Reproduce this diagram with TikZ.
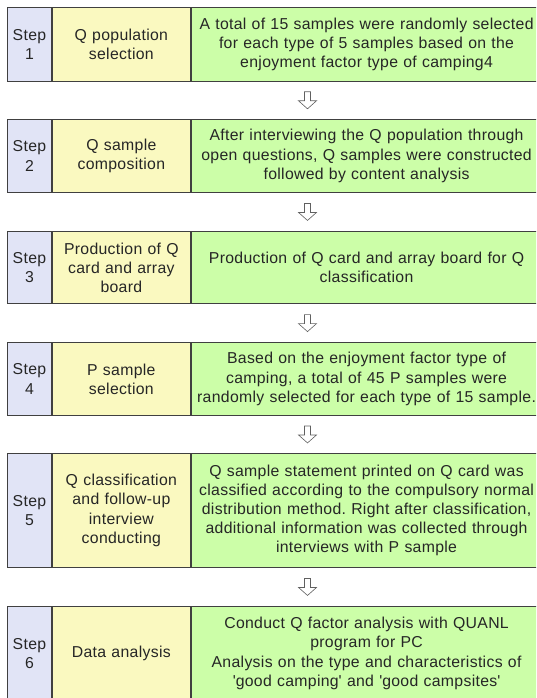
\documentclass[tikz,border=0pt]{standalone}
\usepackage{fontspec}
\setmainfont{Liberation Sans}[WordSpace=1.5,LetterSpace=2]
\usetikzlibrary{calc}
\definecolor{stepcol}{HTML}{E1E4F6}
\definecolor{namecol}{HTML}{FAF9C0}
\definecolor{desccol}{HTML}{CCFEA8}
\definecolor{linecol}{HTML}{404040}
\definecolor{arrowcol}{HTML}{606060}
\newcommand\steprow[5]{%
  \node[stepcell,minimum height=#3pt] (s#1) at (7.3,#2) {Step\\#1};
  \node[namecell,minimum height=#3pt] (n#1) at (s#1.north east) {#4};
  \node[desccell,minimum height=#3pt] (d#1) at (n#1.north east) {#5};
}
\begin{document}
\frenchspacing
\begin{tikzpicture}[x=1pt,y=-1pt,
  cell/.style={draw=linecol,line width=0.9pt,anchor=north west,inner sep=0pt,align=center,
    font=\fontsize{15.8}{19.2}\selectfont\color{black!85}},
  stepcell/.style={cell,fill=stepcol,text width=43.4pt},
  namecell/.style={cell,fill=namecol,text width=138.6pt},
  desccell/.style={cell,fill=desccol,text width=350pt},
  hollow/.style={draw=arrowcol,line width=0.6pt,fill=white,line join=miter},
  downarrow/.pic={\path[hollow] (-3,-8.5) -- (-3,0.5) -- (-9,0.5) -- (0,8.5) -- (9,0.5) -- (3,0.5) -- (3,-8.5) -- cycle;}
]
\useasboundingbox (0,0) rectangle (536,698);
\clip (0,0) rectangle (536,698);
\steprow{1}{7.3}{73.4}{Q population\\selection}{A total of 15 samples were randomly selected\\for each type of 5 samples based on the\\enjoyment factor type of camping4}
\steprow{2}{119}{73}{Q sample\\composition}{After interviewing the Q population through\\open questions, Q samples were constructed\\followed by content analysis}
\steprow{3}{231}{72.3}{Production of Q\\card and array\\board}{Production of Q card and array board for Q\\classification}
\steprow{4}{342}{73}{P sample\\selection}{Based on the enjoyment factor type of\\camping, a total of 45 P samples were\\randomly selected for each type of 15 sample.}
\steprow{5}{453}{114}{Q classification\\and follow-up\\interview\\conducting}{Q sample statement printed on Q card was\\classified according to the compulsory normal\\distribution method. Right after classification,\\additional information was collected through\\interviews with P sample}
\steprow{6}{606}{94}{Data analysis}{Conduct Q factor analysis with QUANL\\program for PC\\Analysis on the type and characteristics of\\\textquotesingle good camping\textquotesingle\ and \textquotesingle good campsites\textquotesingle}
\coordinate (ax) at (307.5,0);
\foreach \i [evaluate=\i as \j using int(\i+1)] in {1,...,5}{
  \coordinate (g\i) at ($(s\i.south)!0.5!(s\j.north)$);
  \pic at (ax |- g\i) {downarrow};
}
\end{tikzpicture}
\end{document}
